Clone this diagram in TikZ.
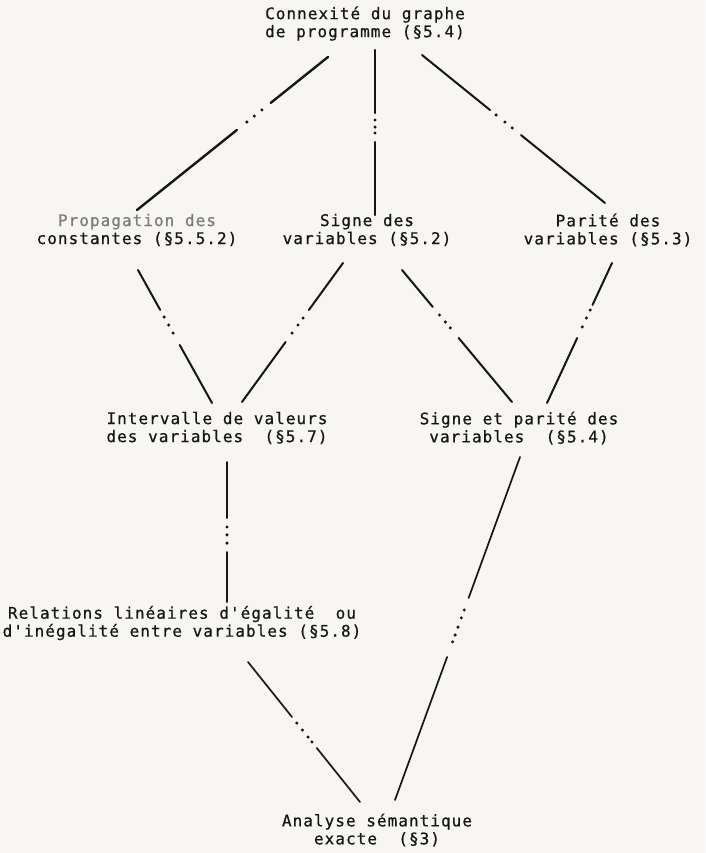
\documentclass[tikz,border=0pt]{standalone}
\usepackage{fontspec}
\usetikzlibrary{calc}
\newfontfamily\machine[LetterSpace=6.5, FakeBold=0.6]{DejaVu Sans Mono}
\definecolor{papier}{HTML}{F7F6F2}
\definecolor{encre}{HTML}{161616}
\definecolor{pale}{HTML}{7C7C7C}

\tikzset{
  etiquette/.style={align=center, inner sep=0pt, text=encre,
    font=\machine\fontsize{16}{18}\selectfont},
  trait/.style={draw=encre, line width=2pt, line cap=round},
  gras/.style={line width=2.4pt},
  fin/.style={line width=1.7pt},
  point/.style={fill=encre},
}

% Lattice edge: solid, then a few dots, then solid again.
% #1 start node, #2 offset from it, #3 end node, #4 offset from it,
% #5 solid pieces (fractions s/e), #6 dot fractions, #7 extra style
\newcommand\lien[7]{%
  \coordinate (debut) at ($(#1)+(#2)$);
  \coordinate (arrivee) at ($(#3)+(#4)$);
  \foreach \s/\e in {#5}
    \draw[trait,#7] ($(debut)!\s!(arrivee)$) -- ($(debut)!\e!(arrivee)$);
  \foreach \t in {#6}
    \fill[point] ($(debut)!\t!(arrivee)$) circle[radius=1.7pt];
}

\begin{document}
\begin{tikzpicture}[x=1pt, y=-1pt]
  \fill[papier] (0,0) rectangle (705,853);
  \useasboundingbox (0,0) rectangle (705,853);

  % lattice elements
  \node[etiquette] (connexite) at (365,23.5) {Connexité du graphe\\de programme (§5.4)};
  \node[etiquette] (propagation) at (137,230) {\textcolor{pale}{Propagation des}\\constantes (§5.5.2)};
  \node[etiquette] (signe) at (367,230) {Signe des\\variables (§5.2)};
  \node[etiquette] (parite) at (608,230) {Parité des\\variables (§5.3)};
  \node[etiquette] (intervalle) at (217,428) {Intervalle de valeurs\\des variables~~(§5.7)};
  \node[etiquette] (signeparite) at (519,428) {Signe et parité des\\variables~~(§5.4)};
  \node[etiquette] (relations) at (182,623) {Relations linéaires d'égalité~~ou\\d'inégalité entre variables (§5.8)};
  \node[etiquette] (analyse) at (377,830) {Analyse sémantique\\exacte~~(§3)};

  % edges of the lattice
  \lien{connexite}{-37,33.5}{propagation}{0,-20}
       {0/0.30, 0.477/1}{0.346,0.386,0.425}{gras}
  \lien{connexite}{10,26.5}{signe}{8,-15}
       {0/0.382, 0.558/1}{0.424,0.467,0.503}{gras}
  \lien{connexite}{57,31.5}{parite}{-3,-27}
       {0/0.372, 0.541/1}{0.405,0.453,0.493}{}
  \lien{propagation}{1,40}{intervalle}{-5,-25}
       {0/0.30, 0.564/1}{0.353,0.414,0.474}{}
  \lien{signe}{-24,33}{intervalle}{25,-26}
       {0/0.338, 0.568/1}{0.396,0.446,0.504}{}
  \lien{signe}{35,40}{signeparite}{-7,-26}
       {0/0.28, 0.515/1}{0.341,0.394,0.439}{}
  \lien{parite}{4,33}{signeparite}{28,-25}
       {0/0.30, 0.536/1}{0.336,0.393,0.457}{}
  \lien{intervalle}{10,34}{relations}{45,-21}
       {0/0.40, 0.643/1}{0.464,0.521,0.579}{}
  \lien{signeparite}{1,29}{analyse}{18,-30}
       {0/0.411, 0.583/1}{0.446,0.469,0.496,0.519,0.539}{fin}
  \lien{relations}{66,39}{analyse}{-17,-28}
       {0/0.393, 0.614/1}{0.436,0.486,0.536,0.571}{fin}
\end{tikzpicture}
\end{document}
